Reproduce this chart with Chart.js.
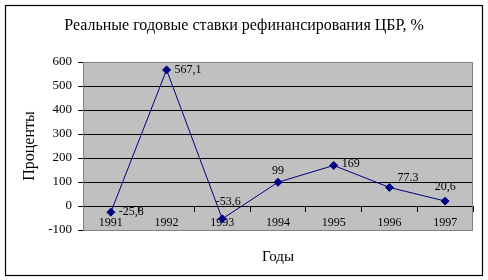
<!DOCTYPE html>
<html>
<head>
<meta charset="utf-8">
<script src="https://cdn.jsdelivr.net/npm/chart.js@4"></script>
<style>
  body { margin: 0; background: #fff; }
  #wrap { width: 488px; height: 280px; }
</style>
</head>
<body>
<div id="wrap"><canvas id="rateChart" width="488" height="280"></canvas></div>
<script>
// Data
var years = ['1991', '1992', '1993', '1994', '1995', '1996', '1997'];
var rates = [-25.8, 567.1, -53.6, 99, 169, 77.3, 20.6];
var rateLabels = ['-25,8', '567,1', '-53,6', '99', '169', '77.3', '20,6'];
var labelSide = ['right', 'right', 'above', 'above', 'right', 'aboveRight', 'above'];

var chartTitle = 'Реальные годовые ставки рефинансирования ЦБР, %';
var serif = '"Liberation Serif", "Times New Roman", serif';

// Gray plot area, gray border, outer frame, titles and value labels
var excelLook = {
    id: 'excelLook',
    beforeDraw: function(chart) {
        var c = chart.ctx, a = chart.chartArea;
        c.save();
        c.fillStyle = '#fff';
        c.fillRect(0, 0, chart.width, chart.height);
        c.fillStyle = '#c0c0c0';
        c.fillRect(a.left, a.top, a.right - a.left, a.bottom - a.top);
        c.restore();
    },
    beforeDatasetsDraw: function(chart) {
        var c = chart.ctx, a = chart.chartArea;
        c.save();
        c.strokeStyle = '#808080';
        c.lineWidth = 1;
        c.strokeRect(a.left + 0.5, a.top + 0.5, a.right - a.left - 1, a.bottom - a.top);
        c.restore();
    },
    afterDraw: function(chart) {
        var c = chart.ctx, a = chart.chartArea;
        c.save();
        c.strokeStyle = '#000';
        c.lineWidth = 1.2;
        c.strokeRect(5.5, 5.5, 477, 270);
        c.fillStyle = '#000';
        c.textAlign = 'center';
        c.textBaseline = 'middle';
        c.font = '16px ' + serif;
        c.fillText(chartTitle, 244, 26);
        c.font = '15px ' + serif;
        c.fillText('Годы', (a.left + a.right) / 2, 257);

        // value labels
        var meta = chart.getDatasetMeta(0);
        c.font = '12px ' + serif;
        meta.data.forEach(function(pt, i) {
            var x = pt.x, y = pt.y;
            var side = labelSide[i];
            if (side === 'right') {
                c.textAlign = 'left';
                x += 8;
                if (i === 4) y -= 2;
            } else if (side === 'aboveRight') {
                c.textAlign = 'left';
                x += 8;
                y -= 10;
            } else {
                c.textAlign = 'center';
                y -= (i === 2 ? 17 : (i === 6 ? 14 : 11));
                if (i === 2) x += 6;
            }
            c.fillText(rateLabels[i], x, y);
        });
        c.restore();
    }
};

var ctx = document.getElementById('rateChart').getContext('2d');
var rateChart = new Chart(ctx, {
    type: 'line',
    data: {
        labels: years,
        datasets: [{
            data: rates,
            borderColor: '#000080',
            borderWidth: 1,
            backgroundColor: '#000080',
            pointStyle: 'rectRot',
            pointRadius: 4,
            pointBorderWidth: 1,
            tension: 0,
            fill: false
        }]
    },
    options: {
        responsive: false,
        animation: false,
        layout: {
            padding: { left: 0, right: 15, top: 62, bottom: 50 }
        },
        plugins: {
            legend: { display: false },
            tooltip: { enabled: false },
            title: { display: false }
        },
        scales: {
            x: {
                type: 'category',
                position: { y: 0 },
                offset: true,
                border: { display: true, color: '#000', width: 1 },
                grid: {
                    offset: true,
                    drawOnChartArea: false,
                    drawTicks: true,
                    tickLength: 5,
                    color: '#000'
                },
                ticks: {
                    color: '#000',
                    font: { family: serif, size: 12 },
                    padding: 5,
                    maxRotation: 0,
                    autoSkip: false
                }
            },
            y: {
                min: -100,
                max: 600,
                afterFit: function(scale) { scale.width = 83; },
                border: { display: true, color: '#000', width: 1 },
                grid: {
                    color: function(c) {
                        return (c.tick && (c.tick.value === 600 || c.tick.value === -100)) ? 'rgba(0,0,0,0)' : '#000';
                    },
                    tickColor: '#000',
                    tickLength: 5
                },
                ticks: {
                    stepSize: 100,
                    color: '#000',
                    font: { family: serif, size: 13 },
                    padding: 6
                },
                title: {
                    display: true,
                    text: 'Проценты',
                    color: '#000',
                    font: { family: serif, size: 16 },
                    padding: { top: 20, bottom: 0 }
                }
            }
        }
    },
    plugins: [excelLook]
});
</script>
</body>
</html>
